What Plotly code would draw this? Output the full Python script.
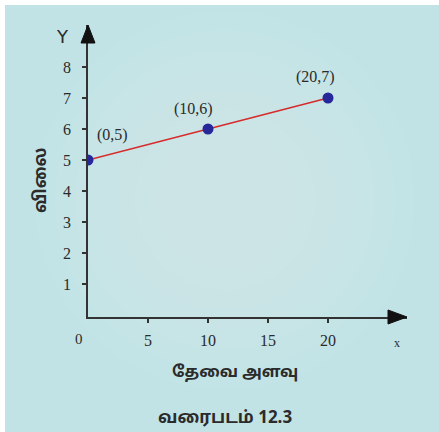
import plotly.graph_objects as go

# ---- data ----
x_vals = [0, 10, 20]
y_vals = [5, 6, 7]
point_labels = ["(0,5)", "(10,6)", "(20,7)"]
label_shift_x = [24, -15, -13]
label_shift_y = [25, 20, 21]
x_ticks = [5, 10, 15, 20]
y_ticks = [1, 2, 3, 4, 5, 6, 7, 8]
x_title = "தேவை அளவு"
y_title = "விலை"
caption = "வரைபடம் 12.3"

W, H = 439, 432
L, R, T, B = 88, 32, 25, 115
PW, PH = W - L - R, H - T - B


def px(fx):
    return (fx - L) / PW


def py(fy):
    return (H - B - fy) / PH


serif = "Liberation Serif, Times New Roman, serif"
tamil = "Noto Sans Tamil, Lohit Tamil, Latha, Noto Sans, sans-serif"
ink = "#2b2b2b"

fig = go.Figure()
fig.add_trace(go.Scatter(
    x=x_vals, y=y_vals, mode="lines+markers",
    line=dict(color="#d62a2a", width=1.6),
    marker=dict(color="#26289a", size=11),
    hoverinfo="skip", showlegend=False,
))

annotations = []
for xv, yv, t, sx, sy in zip(x_vals, y_vals, point_labels, label_shift_x, label_shift_y):
    annotations.append(dict(x=xv, y=yv, xref="x", yref="y", text=t, showarrow=False,
                            xshift=sx, yshift=sy, xanchor="center", yanchor="middle",
                            font=dict(family=serif, size=16, color=ink)))


def fig_text(fx, fy, text, font, angle=0):
    return dict(x=px(fx), y=py(fy), xref="paper", yref="paper", text=text,
                showarrow=False, xanchor="center", yanchor="middle",
                textangle=angle, font=font)


annotations += [
    fig_text(79, 339, "0", dict(family=serif, size=15, color=ink)),
    fig_text(62, 36, "Y", dict(family="DejaVu Sans, sans-serif", size=18, color=ink)),
    fig_text(397, 343, "x", dict(family=serif, size=12, color=ink)),
    fig_text(41, 180, "<b>" + y_title + "</b>", dict(family=tamil, size=17, color=ink), -90),
    fig_text(235, 373, "<b>" + x_title + "</b>", dict(family=tamil, size=16, color=ink)),
    fig_text(225, 418, "<b>" + caption + "</b>", dict(family=tamil, size=17, color=ink)),
]

shapes = [
    dict(type="rect", xref="paper", yref="paper", x0=px(0), x1=px(W), y0=py(0), y1=py(5),
         fillcolor="white", line=dict(width=0), layer="below"),
    dict(type="rect", xref="paper", yref="paper", x0=px(0), x1=px(5), y0=py(0), y1=py(H),
         fillcolor="white", line=dict(width=0), layer="below"),
]
for i in range(8):
    r = 190 - i * 20
    cx, cy = 225, 200
    shapes.append(dict(type="circle", xref="paper", yref="paper",
                       x0=px(cx - r), x1=px(cx + r), y0=py(cy - r), y1=py(cy + r),
                       fillcolor="rgba(255,255,255,0.035)", line=dict(width=0), layer="below"))
shapes += [
    dict(type="path", xref="paper", yref="paper",
         path=f"M {px(88)} {py(25)} L {px(81)} {py(43)} L {px(95)} {py(43)} Z",
         fillcolor="#111111", line=dict(color="#111111", width=1)),
    dict(type="path", xref="paper", yref="paper",
         path=f"M {px(407)} {py(317)} L {px(388)} {py(310)} L {px(388)} {py(324)} Z",
         fillcolor="#111111", line=dict(color="#111111", width=1)),
]

fig.update_layout(
    width=W, height=H,
    margin=dict(l=L, r=R, t=T, b=B, pad=0),
    paper_bgcolor="#c1e3e6",
    plot_bgcolor="rgba(0,0,0,0)",
    annotations=annotations,
    shapes=shapes,
    showlegend=False,
)
fig.update_xaxes(
    range=[0, PW / 12.0], showgrid=False, zeroline=False,
    showline=True, linecolor="#333333", linewidth=1.5,
    tickmode="array", tickvals=x_ticks, ticktext=[str(v) for v in x_ticks],
    ticks="outside", ticklen=4, tickwidth=1.5, tickcolor="#333333",
    ticklabelstandoff=4,
    tickfont=dict(family=serif, size=16, color=ink),
    fixedrange=True,
)
y_bottom = -(317 - 315) / 31.0
fig.update_yaxes(
    range=[y_bottom, y_bottom + PH / 31.0], showgrid=False, zeroline=False,
    showline=True, linecolor="#333333", linewidth=1.5,
    tickmode="array", tickvals=y_ticks, ticktext=[str(v) for v in y_ticks],
    ticks="outside", ticklen=4, tickwidth=1.5, tickcolor="#333333",
    ticklabelstandoff=8,
    tickfont=dict(family=serif, size=16, color=ink),
    fixedrange=True,
)

fig.write_html("out.html", config={"displayModeBar": False},
               post_script="document.body.style.margin='0';document.body.style.overflow='hidden';")
